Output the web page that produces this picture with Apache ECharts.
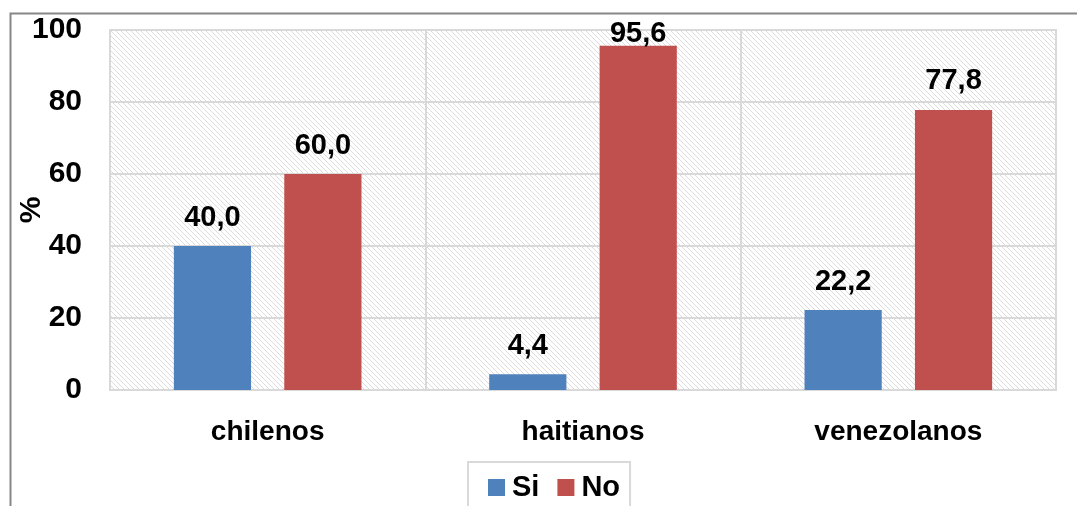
<!DOCTYPE html>
<html>
<head>
<meta charset="utf-8">
<script src="https://cdn.jsdelivr.net/npm/echarts@6/dist/echarts.min.js"></script>
<style>
  html, body { margin: 0; padding: 0; background: #fff; }
  #chart { width: 1077px; height: 506px; }
</style>
</head>
<body>
<div id="chart"></div>
<script>
// Categories and series values (%)
const categories = ['chilenos', 'haitianos', 'venezolanos'];
const siValues = [40.0, 4.4, 22.2];
const noValues = [60.0, 95.6, 77.8];
const yTicks = [0, 20, 40, 60, 80, 100];

// Diagonal hatch tile for the plot background
function hatchTile() {
  const n = 5;
  const c = document.createElement('canvas');
  c.width = n; c.height = n;
  const g = c.getContext('2d');
  g.fillStyle = '#ffffff';
  g.fillRect(0, 0, n, n);
  g.fillStyle = '#dcdcdc';
  for (let i = 0; i < n; i++) g.fillRect(i, i, 1, 1);
  return c;
}

const fmt = v => v.toFixed(1).replace('.', ',');
const font = 'Liberation Sans, Arial, sans-serif';
const big = 29;

// Value labels; labels that would run past the chart's top edge sit lower
function labelled(values) {
  return values.map(v => ({
    value: v,
    label: { distance: v > 90 ? -3 : 14 }
  }));
}

const valueLabel = {
  show: true, position: 'top',
  fontSize: big, fontWeight: 'bold', color: '#000', fontFamily: font,
  formatter: p => fmt(p.value)
};

const chart = echarts.init(document.getElementById('chart'));
chart.setOption({
  animation: false,
  textStyle: { fontFamily: font },
  graphic: [{
    type: 'rect',
    left: 8, top: 11,
    shape: { width: 1200, height: 600 },
    style: { fill: 'none', stroke: '#878787', lineWidth: 2 },
    silent: true,
    z: -10
  }],
  grid: {
    left: 110, right: 21, top: 30, bottom: 116,
    outerBoundsMode: 'none',
    containLabel: false,
    show: true,
    backgroundColor: { image: hatchTile(), repeat: 'repeat' },
    borderColor: '#d9d9d9',
    borderWidth: 2
  },
  legend: {
    top: 462,
    left: 468,
    data: ['Si', 'No'],
    icon: 'rect',
    itemWidth: 17, itemHeight: 17,
    itemGap: 18,
    padding: [11, 10, 12, 20],
    borderColor: '#d9d9d9',
    borderWidth: 2,
    textStyle: { fontSize: big, fontWeight: 'bold', color: '#000', fontFamily: font, padding: [0, 0, 0, 2] }
  },
  xAxis: {
    type: 'category',
    data: categories,
    axisLine: { show: true, lineStyle: { color: '#d9d9d9', width: 2 } },
    axisTick: { show: false },
    splitLine: { show: true, lineStyle: { color: '#d9d9d9', width: 2 } },
    axisLabel: { fontSize: 28, fontWeight: 'bold', color: '#000', margin: 28, fontFamily: font }
  },
  yAxis: {
    type: 'value',
    min: 0, max: 100, interval: 20,
    name: '%',
    nameLocation: 'middle',
    nameGap: 63,
    nameMoveOverlap: false,
    nameRotate: 90,
    nameTextStyle: { fontSize: 30, fontWeight: 'bold', color: '#000', fontFamily: font },
    axisLine: { show: false },
    axisTick: { show: false },
    splitLine: { lineStyle: { color: '#d9d9d9', width: 2 } },
    axisLabel: {
      fontSize: 30, fontWeight: 'bold', color: '#000', margin: 28, fontFamily: font,
      formatter: v => yTicks.includes(v) ? String(v) : ''
    }
  },
  series: [
    {
      name: 'Si', type: 'bar', data: labelled(siValues),
      itemStyle: { color: '#4f81bd' },
      barCategoryGap: '40.5%', barGap: '43%',
      label: valueLabel
    },
    {
      name: 'No', type: 'bar', data: labelled(noValues),
      itemStyle: { color: '#c0504d' },
      barCategoryGap: '40.5%', barGap: '43%',
      label: valueLabel
    }
  ]
});
</script>
</body>
</html>
